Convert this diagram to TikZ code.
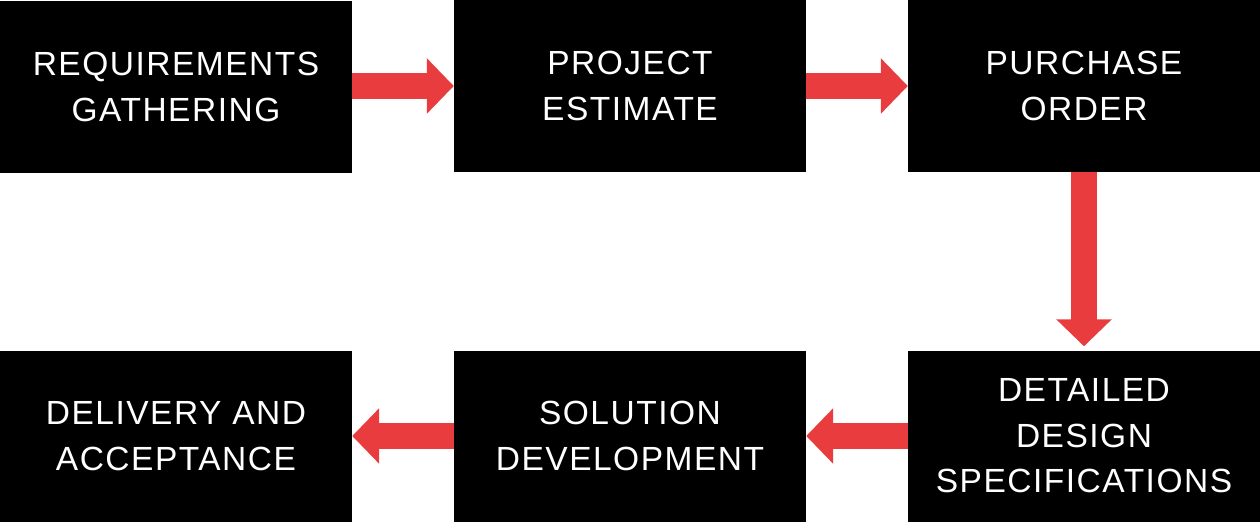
\documentclass[tikz,border=0pt]{standalone}
\usepackage{fontspec}
\setmainfont[LetterSpace=4.5]{Liberation Sans}
\usetikzlibrary{arrows.meta}
\definecolor{flowred}{RGB}{232,60,62}

\begin{document}
\begin{tikzpicture}[x=1pt, y=-1pt,
    box/.style={fill=black, text=white, minimum width=352pt, minimum height=171pt,
        inner sep=0pt, align=center, font=\fontsize{33.5}{45.5}\selectfont},
    flow/.style={flowred, line width=26.5pt, -{Triangle[width=54pt,length=27pt]}}]
    \useasboundingbox (0,0) rectangle (1260,527);

    % Top row
    \node[box] (req) at (176,87) {REQUIREMENTS\\GATHERING};
    \node[box] (est) at (630,86) {PROJECT\\ESTIMATE};
    \node[box] (po)  at (1084,86) {PURCHASE\\ORDER};

    % Bottom row
    \node[box] (del) at (176,436) {DELIVERY AND\\ACCEPTANCE};
    \node[box] (sol) at (630,436) {SOLUTION\\DEVELOPMENT};
    \node[box] (dds) at (1084,436) {DETAILED\\DESIGN\\SPECIFICATIONS};

    % Arrows
    \draw[flow] (req.east |- est) -- (est);
    \draw[flow] (est) -- (po);
    \draw[flow, shorten >=4pt] (po) -- (dds);
    \draw[flow] (dds) -- (sol);
    \draw[flow] (sol) -- (del);
\end{tikzpicture}
\end{document}
